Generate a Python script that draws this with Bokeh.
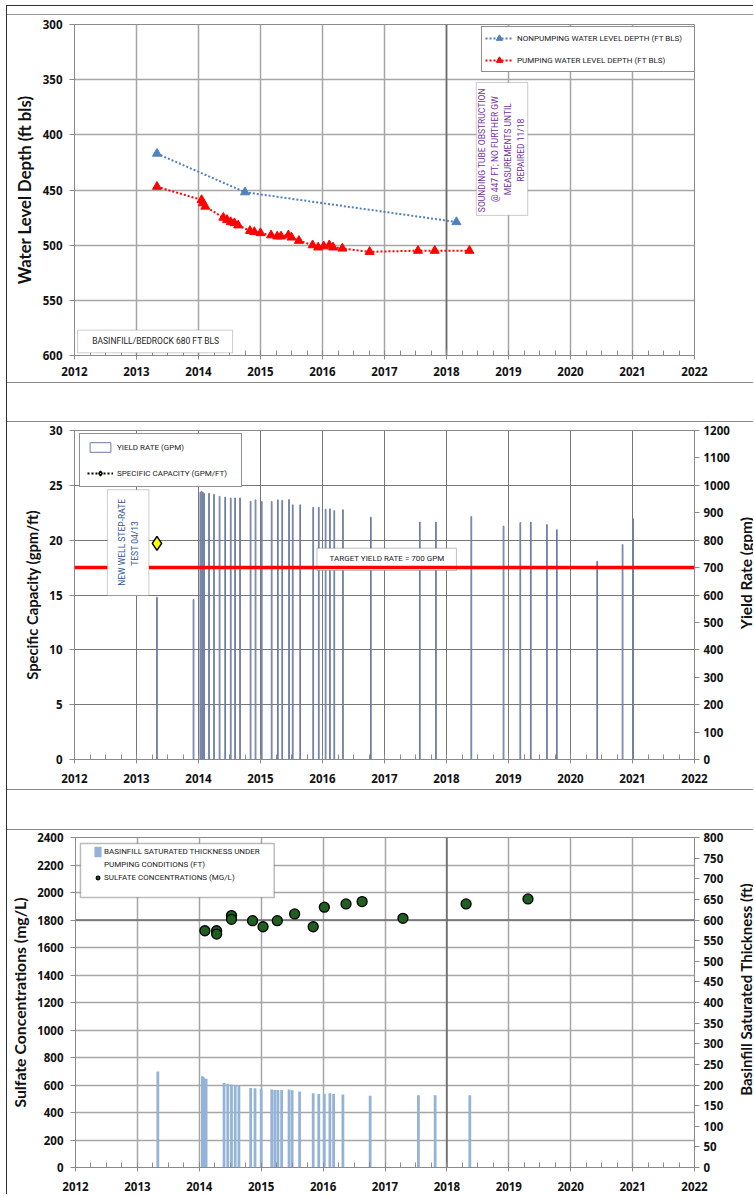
from math import pi
from bokeh.plotting import figure
from bokeh.models import (Range1d, LinearAxis, SingleIntervalTicker, Legend, LegendItem,
                          BoxAnnotation, Label, Span, Div, Spacer)
from bokeh.layouts import column, row
from bokeh.embed import file_html
from bokeh.resources import INLINE
from bokeh.core.properties import value

# ---------------- data ----------------
x_start, x_end = 2012, 2022

nonpump_date = [2013.33, 2014.75, 2018.16]
nonpump_depth = [417, 452, 479]

pump_date = [2013.33, 2014.05, 2014.07, 2014.11, 2014.40, 2014.46, 2014.52, 2014.58, 2014.64,
             2014.83, 2014.90, 2015.00, 2015.17, 2015.27, 2015.33, 2015.45, 2015.50, 2015.62,
             2015.84, 2015.93, 2016.02, 2016.11, 2016.17, 2016.32, 2016.76, 2017.54, 2017.81, 2018.37]
pump_depth = [447, 459, 462, 465, 475, 477, 479, 480, 482,
              487, 488, 489, 491, 492, 492, 491, 493, 496,
              500, 502, 501, 500, 502, 503, 506, 505, 505, 505]

yield_date = [2013.33, 2013.92, 2014.03, 2014.05, 2014.07, 2014.09, 2014.17, 2014.25, 2014.34,
              2014.43, 2014.52, 2014.59, 2014.67, 2014.84, 2014.92, 2015.02, 2015.18, 2015.28,
              2015.35, 2015.46, 2015.52, 2015.64, 2015.85, 2015.94, 2016.05, 2016.12, 2016.19,
              2016.33, 2016.78, 2017.57, 2017.83, 2018.40, 2018.92, 2019.19, 2019.36, 2019.62,
              2019.78, 2020.43, 2020.84, 2021.01]
yield_gpm = [592, 584, 975, 978, 975, 970, 971, 967, 960,
             957, 954, 954, 954, 942, 947, 941, 941, 947,
             945, 948, 929, 929, 920, 920, 913, 914, 908,
             911, 884, 866, 866, 886, 851, 864, 866, 857,
             838, 723, 784, 878]

spec_cap_date = [2013.33]
spec_cap_value = [19.7]

target_yield_gpm = 700

thick_date = [2013.33, 2014.05, 2014.07, 2014.11, 2014.40, 2014.46, 2014.52, 2014.58, 2014.64,
              2014.83, 2014.90, 2015.00, 2015.17, 2015.22, 2015.27, 2015.33, 2015.45, 2015.50,
              2015.62, 2015.84, 2015.93, 2016.02, 2016.11, 2016.17, 2016.32, 2016.76, 2017.54,
              2017.81, 2018.37]
thick_ft = [233, 221, 218, 215, 205, 203, 201, 200, 198,
            193, 192, 191, 189, 188, 188, 188, 189, 187,
            184, 180, 178, 179, 180, 178, 177, 174, 175,
            175, 175]

sulfate_date = [2014.09, 2014.28, 2014.28, 2014.52, 2014.52, 2014.86, 2015.03, 2015.26,
                2015.54, 2015.84, 2016.02, 2016.37, 2016.63, 2017.29, 2018.31, 2019.31]
sulfate_mgl = [1722, 1722, 1698, 1832, 1805, 1795, 1751, 1795,
               1844, 1751, 1893, 1917, 1934, 1812, 1917, 1953]

# darker reference lines visible in the source charts
ref_year = 2018
ref_sulfate = 1800

# ---------------- style ----------------
FONT = "Lato"
TICK_FONT = "Open Sans"
SMALL = "Liberation Sans Narrow, Roboto"
BLUE = "#4F81BD"
RED = "#FF0000"
PURPLE = "#7030A0"
NAVY = "#2F5597"
AXIS_GRAY = "#8a8a8a"
REF_GRAY = "#6a6a6a"
W = 746          # full panel width
W_MAIN = 730     # width of a chart that has a separate right-hand title strip
W_TITLE = 16     # width of that title strip


def style_axis(ax, tick_out=5, standoff=7, label_size="16px", label_standoff=5):
    ax.major_label_text_font = TICK_FONT
    ax.major_label_text_font_style = "bold"
    ax.major_label_text_font_size = "11.5px"
    ax.major_label_text_color = "#111111"
    ax.axis_line_color = AXIS_GRAY
    ax.major_tick_line_color = AXIS_GRAY
    ax.major_tick_in = 0
    ax.major_tick_out = tick_out
    ax.major_label_standoff = standoff
    ax.minor_tick_line_color = None
    ax.axis_label_text_font = FONT
    ax.axis_label_text_font_style = "bold"
    ax.axis_label_text_font_size = label_size
    ax.axis_label_text_color = "#111111"
    ax.axis_label_standoff = label_standoff


def make_fig(width, height, top, bottom, right, y_range, y_interval, ylabel, x_standoff,
             grid_color, grid_width, ylabel_size="16px"):
    p = figure(width=width, height=height, x_range=Range1d(x_start, x_end), y_range=y_range,
               title=None, output_backend="svg", toolbar_location=None,
               min_border_left=67, min_border_right=right, min_border_top=top, min_border_bottom=bottom)
    p.outline_line_color = AXIS_GRAY
    xt = SingleIntervalTicker(interval=1, num_minor_ticks=4)
    yt = SingleIntervalTicker(interval=y_interval)
    xa = p.xaxis[0]
    ya = p.yaxis[0]
    xa.ticker = xt
    ya.ticker = yt
    p.xgrid.ticker = xt
    p.ygrid.ticker = yt
    style_axis(xa, tick_out=4, standoff=x_standoff)
    xa.minor_tick_line_color = AXIS_GRAY
    xa.minor_tick_in = 5
    xa.minor_tick_out = 0
    style_axis(ya, label_size=ylabel_size)
    ya.axis_label = ylabel
    for g in (p.xgrid, p.ygrid):
        g.grid_line_color = grid_color
        g.grid_line_width = grid_width
    return p


def title_strip(height, y_center_from_top, text, size):
    """Narrow plot that carries a right-hand axis title reading bottom-to-top."""
    t = figure(width=W_TITLE, height=height, x_range=Range1d(0, W_TITLE), y_range=Range1d(0, height),
               title=None, output_backend="svg", toolbar_location=None,
               x_axis_type=None, y_axis_type=None, min_border=0)
    t.outline_line_color = None
    t.grid.visible = False
    t.add_layout(Label(x=W_TITLE / 2, y=height - y_center_from_top, text=text, angle=pi / 2,
                       text_align="center", text_baseline="middle", text_font=FONT,
                       text_font_style="bold", text_font_size=size, text_color="#111111"))
    return t


def legend_style(leg, **kw):
    leg.label_text_font = SMALL
    leg.label_text_font_size = "8px"
    leg.label_text_color = "#222222"
    leg.border_line_color = "#222222"
    leg.border_line_width = 1.5
    leg.background_fill_color = "white"
    leg.background_fill_alpha = 1
    leg.margin = 0
    for k, v in kw.items():
        setattr(leg, k, v)


def box(p, l, r, b, t, line_color="#555555", line_width=1):
    ba = BoxAnnotation(left=l, right=r, bottom=b, top=t, fill_color="white", fill_alpha=1,
                       line_color=line_color, line_width=line_width)
    p.add_layout(ba)
    return ba


def label(p, x, y, text, color, size="8.5px", angle=0.0):
    lb = Label(x=x, y=y, text=text, angle=angle, text_align="center", text_baseline="middle",
               text_font=SMALL, text_font_size=size, text_color=color)
    p.add_layout(lb)
    return lb


def ref_line(p, loc, dim):
    p.add_layout(Span(location=loc, dimension=dim, line_color=REF_GRAY, line_width=1.6,
                      level="underlay"))


# ---------------- chart 1: water levels ----------------
p1 = make_fig(W, 367, 9, 27, 59, Range1d(600, 300), 50, "Water Level Depth (ft bls)", 7,
              "#a6a6a6", 1.5, ylabel_size="16.7px")
ref_line(p1, ref_year, "height")

nl = p1.line(nonpump_date, nonpump_depth, line_color=BLUE, line_dash="2 2", line_width=2)
ns = p1.scatter(nonpump_date, nonpump_depth, marker="triangle", size=9, fill_color=BLUE, line_color=BLUE)
pl = p1.line(pump_date, pump_depth, line_color=RED, line_dash="2 2", line_width=2)
ps = p1.scatter(pump_date, pump_depth, marker="triangle", size=9, fill_color=RED, line_color=RED)

box(p1, 2018.48, 2019.31, 473, 352.6)
for xx, txt in zip([2018.58, 2018.775, 2018.985, 2019.195],
                   ["SOUNDING TUBE  OBSTRUCTION", "@ 447 FT; NO FURTHER GW",
                    "MEASUREMENTS UNTIL", "REPAIRED  11/18"]):
    label(p1, xx, 413, txt, PURPLE, size="8.5px", angle=pi / 2)

box(p1, 2012.05, 2014.55, 597.6, 577)
label(p1, 2013.31, 587.3, "BASINFILL/BEDROCK 680 FT BLS", "#222222", size="8.5px")

leg1 = Legend(items=[LegendItem(label="NONPUMPING WATER LEVEL DEPTH (FT BLS)", renderers=[nl, ns]),
                     LegendItem(label="PUMPING WATER LEVEL DEPTH (FT BLS)", renderers=[pl, ps])],
              location=(407, 283))
legend_style(leg1, padding=3, spacing=6, glyph_width=28, glyph_height=16, label_height=16,
             label_width=176, label_standoff=4)
p1.add_layout(leg1)

# ---------------- chart 2: yield / specific capacity ----------------
p2 = make_fig(W_MAIN, 367, 8, 30, 43, Range1d(0, 30), 5, "Specific Capacity (gpm/ft)", 10,
              "#777777", 1, ylabel_size="14.8px")
p2.extra_y_ranges = {"yield": Range1d(0, 1200)}
ax2 = LinearAxis(y_range_name="yield", ticker=SingleIntervalTicker(interval=100))
style_axis(ax2, tick_out=5, standoff=4)
p2.add_layout(ax2, "right")

yb = p2.vbar(x=yield_date, top=yield_gpm, bottom=0, width=0.012, fill_color="white",
             line_color="#6b7ba3", line_width=1, y_range_name="yield")

box(p2, 2015.91, 2018.16, 17.23, 19.27, line_color="#333333")
tspan = Span(location=target_yield_gpm, dimension="width", y_range_name="yield",
             line_color=RED, line_width=3.5)
p2.add_layout(tspan)
label(p2, 2017.04, 18.35, "TARGET YIELD RATE = 700 GPM", "#222222", size="8px")

box(p2, 2012.53, 2013.2, 14.95, 24.6)
label(p2, 2012.76, 19.8, "NEW WELL STEP-RATE", NAVY, size="8.5px", angle=pi / 2)
label(p2, 2012.97, 19.8, "TEST  04/13", NAVY, size="8.5px", angle=pi / 2)

scl = p2.line(spec_cap_date, spec_cap_value, line_color="black", line_dash="2 2", line_width=2)
scs = p2.scatter(spec_cap_date, spec_cap_value, marker="diamond", size=14, fill_color="#FFFF00",
                 line_color="black", line_width=1.5)

leg2 = Legend(items=[LegendItem(label="YIELD RATE (GPM)", renderers=[yb]),
                     LegendItem(label="SPECIFIC CAPACITY (GPM/FT)", renderers=[scl, scs])],
              location=(5, 272))
legend_style(leg2, padding=7, spacing=14, glyph_width=26, glyph_height=12, label_height=12,
             label_width=117, label_standoff=4)
p2.add_layout(leg2)

t2 = title_strip(367, 159, "Yield Rate (gpm)", "15.5px")

# ---------------- chart 3: sulfate / saturated thickness ----------------
p3 = make_fig(W_MAIN, 364, 7, 27, 43, Range1d(0, 2400), 200, "Sulfate Concentrations (mg/L)", 10,
              "#a6a6a6", 1.5, ylabel_size="15.8px")
p3.extra_y_ranges = {"thick": Range1d(0, 800)}
ax3 = LinearAxis(y_range_name="thick", ticker=SingleIntervalTicker(interval=50))
style_axis(ax3, tick_out=5, standoff=4)
p3.add_layout(ax3, "right")
ref_line(p3, ref_year, "height")
ref_line(p3, ref_sulfate, "width")

tb = p3.vbar(x=thick_date, top=thick_ft, bottom=0, width=0.045, fill_color="#95B3D7",
             line_color=None, y_range_name="thick")
sc = p3.scatter(sulfate_date, sulfate_mgl, marker="circle", size=10, fill_color="#1f5f1f",
                line_color="black", line_width=1.3)
dummy = p3.scatter(x=[], y=[], size=1, fill_alpha=0, line_alpha=0)

box(p3, 2012.08, 2015.21, 1964, 2356, line_color="#222222", line_width=1.5)
leg3 = Legend(items=[LegendItem(label="BASINFILL SATURATED THICKNESS UNDER", renderers=[tb]),
                     LegendItem(label="PUMPING CONDITIONS (FT)", renderers=[dummy]),
                     LegendItem(label="SULFATE CONCENTRATIONS (MG/L)", renderers=[sc])],
              location=(18, 283))
legend_style(leg3, padding=1, spacing=0, glyph_width=9, glyph_height=13, label_height=13,
             label_width=150, label_standoff=2)
leg3.border_line_color = None
leg3.background_fill_alpha = 0
p3.add_layout(leg3)

t3 = title_strip(364, 167.5, "Basinfill Saturated Thickness (ft)", "15px")

# ---------------- page frame ----------------
def hline(color):
    return Div(text="", width=W, height=1, margin=0, styles={"background-color": color})


def gap(h):
    return Spacer(width=W, height=h, margin=0)


col = column(
    gap(5), hline("#333333"), gap(8), hline("#999999"),
    p1,
    hline("#8c8c8c"), gap(38), hline("#8c8c8c"),
    row(p2, t2, spacing=0, margin=0),
    hline("#8c8c8c"), gap(39), hline("#8c8c8c"),
    row(p3, t3, spacing=0, margin=0),
    spacing=0, margin=0,
)
vline_col = column(Spacer(width=1, height=5, margin=0),
                   Div(text="", width=1, height=1189, margin=0, styles={"background-color": "#333333"}),
                   spacing=0, margin=0)
layout = row(Spacer(width=6, height=10, margin=0), vline_col, col, spacing=0, margin=0)

open("out.html", "w").write(file_html(layout, INLINE))
